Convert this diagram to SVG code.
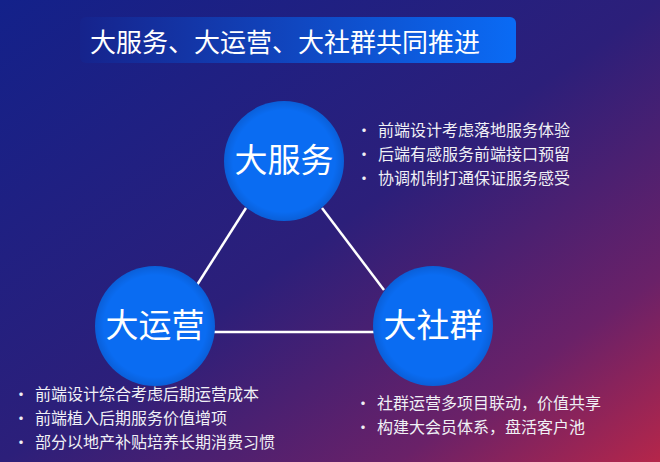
<svg xmlns="http://www.w3.org/2000/svg" width="660" height="462" viewBox="0 0 660 462">
<defs>
<linearGradient id="bg" x1="0" y1="0" x2="1" y2="1">
<stop offset="0" stop-color="#13218a"/>
<stop offset="0.5" stop-color="#2c1f7a"/>
<stop offset="0.8" stop-color="#6a2168"/>
<stop offset="1" stop-color="#b5264a"/>
</linearGradient>
<linearGradient id="tb" x1="0" y1="0" x2="1" y2="0">
<stop offset="0" stop-color="#16238c"/>
<stop offset="1" stop-color="#0a6bf5"/>
</linearGradient>
<radialGradient id="cg" cx="0.5" cy="0.5" r="0.5">
<stop offset="0.85" stop-color="#0a6cf2"/>
<stop offset="1" stop-color="#0a5fd8"/>
</radialGradient>
<style>
text{font-family:"Noto Sans CJK SC","Noto Sans",sans-serif;fill:#fff}
.b{font-size:16px;fill:#f0f0f5}
.c{font-size:33px;text-anchor:middle}
circle{fill:url(#cg)}
line{stroke:#fff;stroke-width:2.5}
</style>
</defs>
<rect width="660" height="462" fill="url(#bg)"/>
<g id="title">
<rect x="80" y="17" width="436" height="46" rx="6" fill="url(#tb)"/>
<text x="90" y="52" style="font-size:26px">大服务、大运营、大社群共同推进</text>
</g>
<g id="connectors">
<line x1="246" y1="208" x2="197" y2="285"/>
<line x1="322" y1="208" x2="384" y2="290"/>
<line x1="214" y1="332" x2="376" y2="332"/>
</g>
<g id="n1">
<circle cx="284" cy="161" r="60"/>
<text class="c" x="284" y="172">大服务</text>
</g>
<g id="n2">
<circle cx="155" cy="326" r="60"/>
<text class="c" x="155" y="337">大运营</text>
</g>
<g id="n3">
<circle cx="433" cy="326" r="60"/>
<text class="c" x="433" y="337">大社群</text>
</g>
<g id="list1">
<text class="b" x="356" y="136">•</text><text class="b" x="378" y="136">前端设计考虑落地服务体验</text>
<text class="b" x="356" y="160">•</text><text class="b" x="378" y="160">后端有感服务前端接口预留</text>
<text class="b" x="356" y="184">•</text><text class="b" x="378" y="184">协调机制打通保证服务感受</text>
</g>
<g id="list2">
<text class="b" x="13" y="400">•</text><text class="b" x="35" y="400">前端设计综合考虑后期运营成本</text>
<text class="b" x="13" y="424">•</text><text class="b" x="35" y="424">前端植入后期服务价值增项</text>
<text class="b" x="13" y="448">•</text><text class="b" x="35" y="448">部分以地产补贴培养长期消费习惯</text>
</g>
<g id="list3">
<text class="b" x="355" y="409">•</text><text class="b" x="377" y="409">社群运营多项目联动，价值共享</text>
<text class="b" x="355" y="433">•</text><text class="b" x="377" y="433">构建大会员体系，盘活客户池</text>
</g>
</svg>
